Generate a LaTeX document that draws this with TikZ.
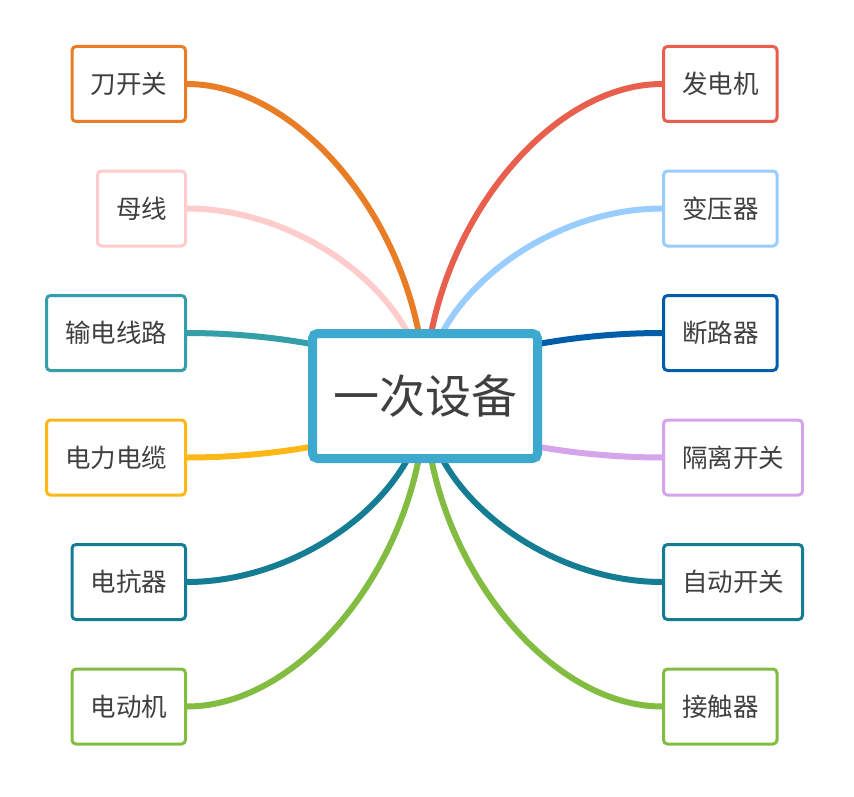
\documentclass[tikz,border=0pt]{standalone}
\usepackage{fontspec}
\setmainfont{Noto Sans CJK SC}
\usetikzlibrary{calc,backgrounds}
\definecolor{cOrange}{HTML}{E97D26}
\definecolor{cPink}{HTML}{FFCCCC}
\definecolor{cTeal}{HTML}{349FA8}
\definecolor{cYellow}{HTML}{FDB717}
\definecolor{cDTeal}{HTML}{147D93}
\definecolor{cGreen}{HTML}{82BC41}
\definecolor{cRed}{HTML}{E85F4E}
\definecolor{cLBlue}{HTML}{99CCFF}
\definecolor{cDBlue}{HTML}{005DAA}
\definecolor{cLav}{HTML}{D4A5EA}
\definecolor{cMain}{HTML}{3EA9CF}
\definecolor{cText}{HTML}{3F3F3F}
\tikzset{
  topic/.style={draw=#1, line width=3pt, rounded corners=4pt, fill=white,
    minimum height=75pt, inner xsep=18.5pt, inner ysep=0pt,
    text=cText, font=\fontsize{25.5}{28}\selectfont},
  mainbox/.style={draw=cMain, line width=9pt, rounded corners=5pt, fill=white,
    minimum width=225pt, minimum height=125pt, text=cText,
    font=\fontsize{46}{52}\selectfont},
  conn/.style={line width=6pt}
}
\newcommand\branch[3]{%
  \draw[conn,draw=#1] let \p1=(#2.#3), \p2=(c.center) in
    (\p1) .. controls ({(\x1+\x2)/2},\y1) and (\x2,{(\y1+\y2)/2}) .. (\p2);}
\begin{document}
\begin{tikzpicture}[x=1pt,y=-1pt]
\useasboundingbox (0,0) rectangle (854,797);
\node[mainbox] (c) at (425,396) {一次设备};
% left
\node[topic=cOrange, anchor=east] (l1) at (187,84) {刀开关};
\node[topic=cPink, anchor=east] (l2) at (187,208.5) {母线};
\node[topic=cTeal, anchor=east] (l3) at (187,333) {输电线路};
\node[topic=cYellow, anchor=east] (l4) at (187,457.5) {电力电缆};
\node[topic=cDTeal, anchor=east] (l5) at (187,582) {电抗器};
\node[topic=cGreen, anchor=east] (l6) at (187,706.5) {电动机};
% right
\node[topic=cRed, anchor=west] (r1) at (662,84) {发电机};
\node[topic=cLBlue, anchor=west] (r2) at (662,208.5) {变压器};
\node[topic=cDBlue, anchor=west] (r3) at (662,333) {断路器};
\node[topic=cLav, anchor=west] (r4) at (662,457.5) {隔离开关};
\node[topic=cDTeal, anchor=west] (r5) at (662,582) {自动开关};
\node[topic=cGreen, anchor=west] (r6) at (662,706.5) {接触器};
\begin{scope}[on background layer]
\branch{cOrange}{l1}{east}
\branch{cPink}{l2}{east}
\branch{cTeal}{l3}{east}
\branch{cYellow}{l4}{east}
\branch{cDTeal}{l5}{east}
\branch{cGreen}{l6}{east}
\branch{cRed}{r1}{west}
\branch{cLBlue}{r2}{west}
\branch{cDBlue}{r3}{west}
\branch{cLav}{r4}{west}
\branch{cDTeal}{r5}{west}
\branch{cGreen}{r6}{west}
\end{scope}
\end{tikzpicture}
\end{document}
